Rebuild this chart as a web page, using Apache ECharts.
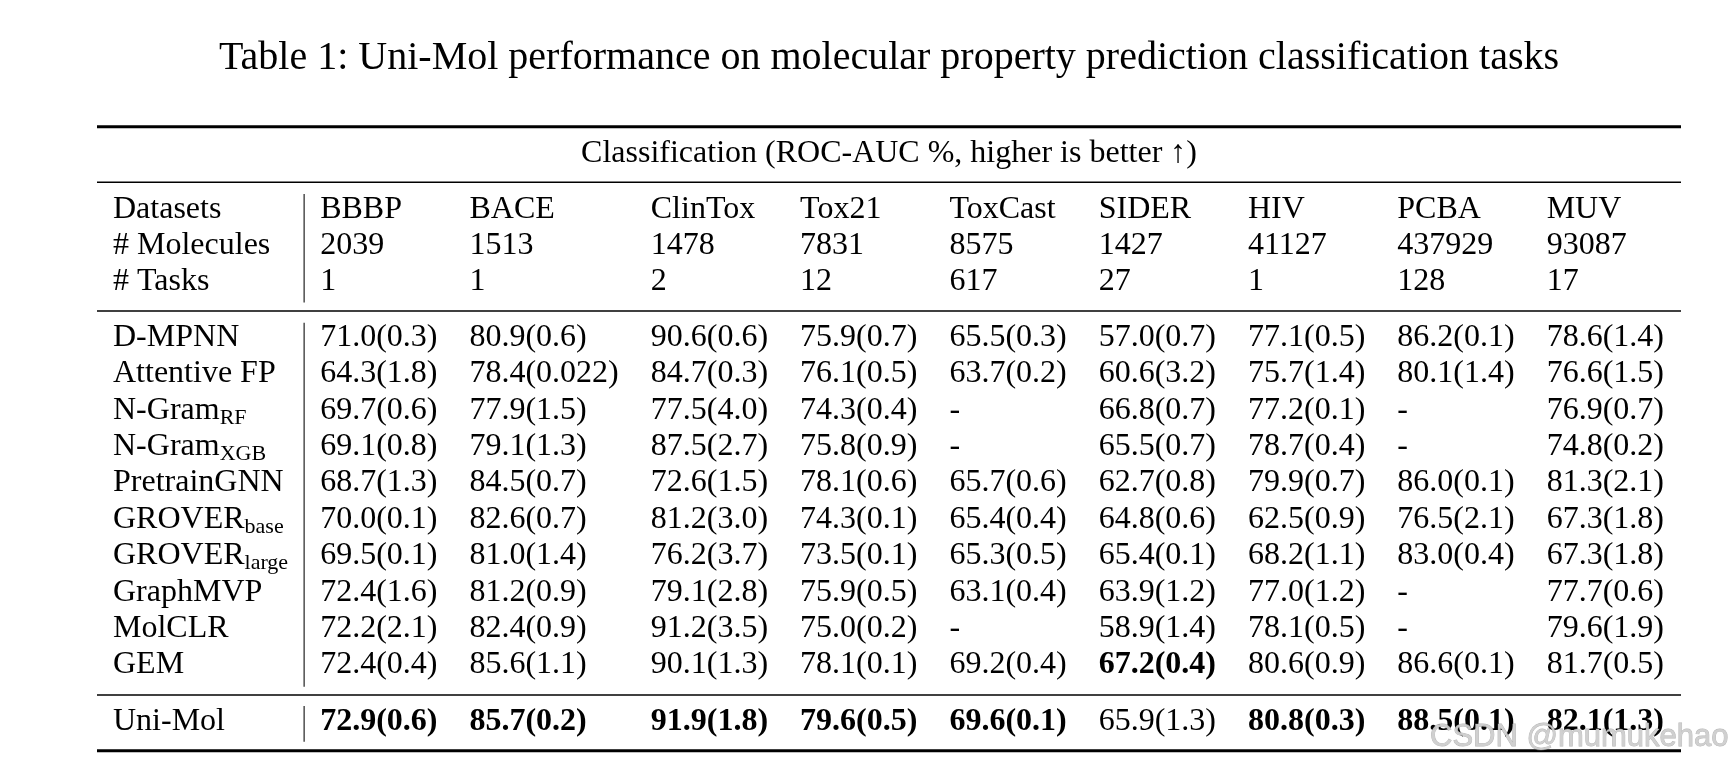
<!DOCTYPE html>
<html>
<head>
<meta charset="utf-8">
<script src="https://cdn.jsdelivr.net/npm/echarts/dist/echarts.min.js"></script>
<style>html,body{margin:0;padding:0;background:#fff;}#chart{width:1736px;height:771px;}</style>
</head>
<body>
<div id="chart"></div>
<script>
// ---------------- data ----------------
const titleText = 'Table 1: Uni-Mol performance on molecular property prediction classification tasks';
const spanHeader = 'Classification (ROC-AUC %, higher is better \u2191)';
const rowHeaders = ['Datasets', '# Molecules', '# Tasks'];
const datasets = ['BBBP', 'BACE', 'ClinTox', 'Tox21', 'ToxCast', 'SIDER', 'HIV', 'PCBA', 'MUV'];
const molecules = ['2039', '1513', '1478', '7831', '8575', '1427', '41127', '437929', '93087'];
const tasks = ['1', '1', '2', '12', '617', '27', '1', '128', '17'];
const methodNames = ['D-MPNN', 'Attentive FP', 'N-Gram', 'N-Gram', 'PretrainGNN', 'GROVER', 'GROVER', 'GraphMVP', 'MolCLR', 'GEM'];
const methodSubs = ['', '', 'RF', 'XGB', '', 'base', 'large', '', '', ''];
const baselineScores = [
  ['71.0(0.3)', '80.9(0.6)', '90.6(0.6)', '75.9(0.7)', '65.5(0.3)', '57.0(0.7)', '77.1(0.5)', '86.2(0.1)', '78.6(1.4)'],
  ['64.3(1.8)', '78.4(0.022)', '84.7(0.3)', '76.1(0.5)', '63.7(0.2)', '60.6(3.2)', '75.7(1.4)', '80.1(1.4)', '76.6(1.5)'],
  ['69.7(0.6)', '77.9(1.5)', '77.5(4.0)', '74.3(0.4)', '-', '66.8(0.7)', '77.2(0.1)', '-', '76.9(0.7)'],
  ['69.1(0.8)', '79.1(1.3)', '87.5(2.7)', '75.8(0.9)', '-', '65.5(0.7)', '78.7(0.4)', '-', '74.8(0.2)'],
  ['68.7(1.3)', '84.5(0.7)', '72.6(1.5)', '78.1(0.6)', '65.7(0.6)', '62.7(0.8)', '79.9(0.7)', '86.0(0.1)', '81.3(2.1)'],
  ['70.0(0.1)', '82.6(0.7)', '81.2(3.0)', '74.3(0.1)', '65.4(0.4)', '64.8(0.6)', '62.5(0.9)', '76.5(2.1)', '67.3(1.8)'],
  ['69.5(0.1)', '81.0(1.4)', '76.2(3.7)', '73.5(0.1)', '65.3(0.5)', '65.4(0.1)', '68.2(1.1)', '83.0(0.4)', '67.3(1.8)'],
  ['72.4(1.6)', '81.2(0.9)', '79.1(2.8)', '75.9(0.5)', '63.1(0.4)', '63.9(1.2)', '77.0(1.2)', '-', '77.7(0.6)'],
  ['72.2(2.1)', '82.4(0.9)', '91.2(3.5)', '75.0(0.2)', '-', '58.9(1.4)', '78.1(0.5)', '-', '79.6(1.9)'],
  ['72.4(0.4)', '85.6(1.1)', '90.1(1.3)', '78.1(0.1)', '69.2(0.4)', '67.2(0.4)', '80.6(0.9)', '86.6(0.1)', '81.7(0.5)']
];
const oursName = 'Uni-Mol';
const oursScores = ['72.9(0.6)', '85.7(0.2)', '91.9(1.8)', '79.6(0.5)', '69.6(0.1)', '65.9(1.3)', '80.8(0.3)', '88.5(0.1)', '82.1(1.3)'];
const watermark = 'CSDN @mumukehao';

// ---------------- layout / style ----------------
const W = 1736, H = 771;
const FONT = '"Liberation Serif", "Times New Roman", serif';
const FS = 32, SUB_FS = 22, TITLE_FS = 40;
const TABLE_L = 97, TABLE_R = 1681, PAD = 16;
const BASE_K = 0.32; // baseline-to-middle offset (em)
const TITLE_Y = 71.7, SPAN_Y = 164;
const HEAD_Y0 = 220, HEAD_STEP = 35.8;
const BODY_Y0 = 347.7, BODY_STEP = 36.4;
const OURS_Y = 731.7;
const RULES = [[126.7, 3], [182.3, 1.6], [311, 1.6], [695, 1.6], [750.7, 3]];

const mctx = document.createElement('canvas').getContext('2d');
function tw(s, size, bold) {
  mctx.font = (bold ? 'bold ' : '') + size + 'px ' + FONT;
  return mctx.measureText(s).width;
}

// best score per column -> bold
const allRows = baselineScores.concat([oursScores]);
const best = datasets.map((_, j) => Math.max(...allRows.map(r => parseFloat(r[j])).filter(v => !isNaN(v))));

// column positions from text widths (LaTeX-like tabcolsep)
let w0 = 0;
rowHeaders.forEach(s => { w0 = Math.max(w0, tw(s, FS)); });
methodNames.forEach((s, i) => { w0 = Math.max(w0, tw(s, FS) + (methodSubs[i] ? tw(methodSubs[i], SUB_FS) : 0)); });
w0 = Math.max(w0, tw(oursName, FS));
const colX = [TABLE_L + PAD];
const sepX = colX[0] + w0 + PAD;
colX.push(sepX + PAD);
datasets.forEach((d, j) => {
  let w = Math.max(tw(d, FS), tw(molecules[j], FS), tw(tasks[j], FS));
  allRows.forEach(r => { w = Math.max(w, tw(r[j], FS, parseFloat(r[j]) === best[j])); });
  if (j < datasets.length - 1) colX.push(colX[j + 1] + w + 2 * PAD);
});

// build text cells
const cells = [];
function addCell(x, y, text, opt) { cells.push(Object.assign({ x: x, y: y, text: text, size: FS, bold: false, align: 'left' }, opt || {})); }
addCell((TABLE_L + TABLE_R) / 2, TITLE_Y, titleText, { size: TITLE_FS, align: 'center' });
addCell((TABLE_L + TABLE_R) / 2, SPAN_Y, spanHeader, { align: 'center' });
const headerRows = [datasets, molecules, tasks];
rowHeaders.forEach((h, r) => {
  const y = HEAD_Y0 + r * HEAD_STEP;
  addCell(colX[0], y, h);
  headerRows[r].forEach((v, j) => addCell(colX[j + 1], y, v));
});
methodNames.forEach((m, i) => {
  const y = BODY_Y0 + i * BODY_STEP;
  addCell(colX[0], y, m);
  if (methodSubs[i]) addCell(colX[0] + tw(m, FS), y + 4.5, methodSubs[i], { size: SUB_FS });
  baselineScores[i].forEach((s, j) => addCell(colX[j + 1], y, s, { bold: parseFloat(s) === best[j] }));
});
addCell(colX[0], OURS_Y, oursName);
oursScores.forEach((s, j) => addCell(colX[j + 1], OURS_Y, s, { bold: parseFloat(s) === best[j] }));

// rules and vertical separators
const lines = [];
RULES.forEach(r => lines.push([TABLE_L, r[0], TABLE_R, r[0], r[1], '#000']));
lines.push([sepX, HEAD_Y0 - 26, sepX, HEAD_Y0 + 2 * HEAD_STEP + 11, 1.3, '#333']);
lines.push([sepX, BODY_Y0 - 25, sepX, BODY_Y0 + (methodNames.length - 1) * BODY_STEP + 11.4, 1.3, '#333']);
lines.push([sepX, OURS_Y - 25.7, sepX, OURS_Y + 10, 1.3, '#333']);

const chart = echarts.init(document.getElementById('chart'), null, { renderer: 'canvas' });
chart.setOption({
  backgroundColor: '#fff',
  animation: false,
  grid: { left: 0, right: 0, top: 0, bottom: 0 },
  xAxis: { type: 'value', min: 0, max: W, show: false },
  yAxis: { type: 'value', min: 0, max: H, inverse: true, show: false },
  series: [
    {
      type: 'custom',
      silent: true,
      data: lines.map((l, i) => [l[0], l[1], l[2], l[3], i]),
      renderItem: function (params, api) {
        const l = lines[api.value(4)];
        const p1 = api.coord([api.value(0), api.value(1)]);
        const p2 = api.coord([api.value(2), api.value(3)]);
        return { type: 'line', shape: { x1: p1[0], y1: p1[1], x2: p2[0], y2: p2[1] }, style: { stroke: l[5], lineWidth: l[4] } };
      }
    },
    {
      type: 'custom',
      silent: true,
      data: cells.map((c, i) => [c.x, c.y, i]),
      renderItem: function (params, api) {
        const c = cells[api.value(2)];
        const p = api.coord([api.value(0), api.value(1)]);
        return {
          type: 'text', x: p[0], y: p[1] - c.size * BASE_K,
          style: { text: c.text, fontFamily: FONT, fontSize: c.size, fontWeight: c.bold ? 'bold' : 'normal', fill: '#000', align: c.align, verticalAlign: 'middle' }
        };
      }
    },
    {
      type: 'custom',
      silent: true,
      data: [[1430, 749]],
      renderItem: function (params, api) {
        const p = api.coord([api.value(0), api.value(1)]);
        return {
          type: 'text', x: p[0], y: p[1] - 31 * 0.36,
          style: { text: watermark, fontFamily: '"Liberation Sans", Arial, sans-serif', fontSize: 31, fill: 'rgba(206,206,206,0.95)', stroke: 'rgba(120,120,120,0.55)', lineWidth: 0.8, align: 'left', verticalAlign: 'middle' }
        };
      }
    }
  ]
});
</script>
</body>
</html>
